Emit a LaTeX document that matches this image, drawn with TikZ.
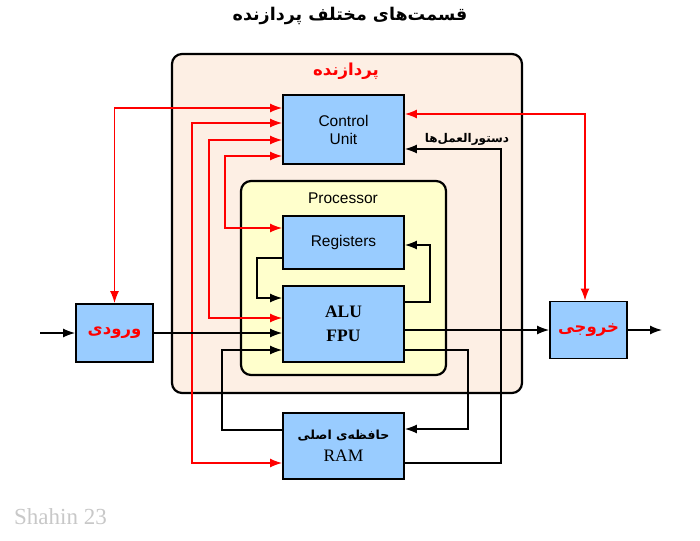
\documentclass[tikz,border=0pt]{standalone}
\usepackage{fontspec}
\setmainfont{Liberation Sans}
\newfontfamily\fa[Script=Arabic]{DejaVu Sans}
\newfontfamily\tms{Liberation Serif}
\TeXXeTstate=1
\usetikzlibrary{arrows.meta}
\definecolor{boxblue}{HTML}{99CCFF}
\definecolor{outerfill}{HTML}{FDEFE4}
\definecolor{procfill}{HTML}{FFFFCC}
\definecolor{wmgray}{HTML}{C8C8C8}
\tikzset{
  blk/.style={draw=black, line width=1.8pt, fill=boxblue, inner sep=0pt, align=center},
  frame/.style={draw=black, line width=2.2pt, rounded corners=10pt},
  rline/.style={draw=red, line width=1.5pt, {Latex[length=12pt,width=9pt]}-{Latex[length=12pt,width=9pt]}},
  bline/.style={draw=black, line width=1.4pt, -{Latex[length=12pt,width=9pt]}},
  faB/.style={font=\fa\bfseries}
}
\begin{document}
\begin{tikzpicture}[x=1pt,y=-1pt]
\useasboundingbox (0,0) rectangle (700,540);
% title
\node[font=\fa\bfseries\fontsize{17.5}{20}\selectfont] (title) at (350,16) {\beginR قسمت‌های مختلف پردازنده\endR};
% frames
\draw[frame, fill=outerfill] (172,54) rectangle (522,393);
\node[text=red, font=\fa\bfseries\fontsize{16.5}{19}\selectfont] (cpu) at (346,71) {\beginR پردازنده\endR};
\draw[frame, fill=procfill] (241,181) rectangle (446,375);
\node[font=\fontsize{15.5}{18}\selectfont] (proc) at (343,198) {Processor};
% coordinates for free ends
\coordinate (inS) at (40,333);
\coordinate (outE) at (662,330);
% blocks
\node[blk, minimum width=121pt, minimum height=69pt, font=\fontsize{15.5}{18}\selectfont] (CU) at (343.5,129.5) {Control\\Unit};
\node[blk, minimum width=121pt, minimum height=53pt, font=\fontsize{15.5}{18}\selectfont] (Reg) at (343.5,242.5) {Registers};
\node[blk, minimum width=121pt, minimum height=76pt, font=\tms\bfseries\fontsize{17.5}{24}\selectfont] (ALU) at (343.5,324) {ALU\\FPU};
\node[blk, minimum width=121pt, minimum height=66pt, font=\tms\fontsize{17.5}{22}\selectfont] (RAM) at (343.5,446) {{\fa\bfseries\fontsize{12.5}{15}\selectfont\beginR حافظه‌ی اصلی\endR}\\RAM};
\node[blk, minimum width=77pt, minimum height=58pt, text=red, font=\fa\bfseries\fontsize{16.5}{19}\selectfont] (In) at (114.5,333) {\beginR ورودی\endR};
\node[blk, minimum width=77pt, minimum height=57pt, text=red, font=\fa\bfseries\fontsize{16.5}{19}\selectfont] (Out) at (588.5,330) {\beginR خروجی\endR};
% red connectors
\draw[rline] (In.north) |- ([yshift=21.5pt]CU.west);
\draw[rline] ([yshift=6.5pt]CU.west) -- ++(-90,0) |- ([yshift=-17pt]RAM.west);
\draw[rline] ([yshift=-10.5pt]CU.west) -- ++(-73,0) |- ([yshift=6pt]ALU.west);
\draw[rline] ([yshift=-26.5pt]CU.west) -- ++(-57,0) |- ([yshift=14.5pt]Reg.west);
\draw[rline] ([yshift=15.5pt]CU.east) -| ([xshift=-3.5pt]Out.north);
% black connectors
\draw[bline] (inS) -- (In.west);
\draw[bline] (In.east) -- ([yshift=-9pt]ALU.west);
\draw[bline] (ALU.east |- Out.west) -- (Out.west);
\draw[bline] (Out.east) -- (outE);
\draw[bline] ([yshift=-15.5pt]Reg.west) -- ++(-25,0) |- ([yshift=26pt]ALU.west);
\draw[bline] ([yshift=22pt]ALU.east) -- ++(25,0) |- ([yshift=-2.5pt]Reg.east);
\draw[bline] ([yshift=-26pt]ALU.east) -- ++(63,0) |- ([yshift=17pt]RAM.east);
\draw[bline] ([yshift=16pt]RAM.west) -- ++(-60,0) |- ([yshift=-26pt]ALU.west);
\draw[bline] ([yshift=-17pt]RAM.east) -- ++(96,0) |- ([yshift=-19.5pt]CU.east);
\node[font=\fa\bfseries\fontsize{12}{14}\selectfont] (instr) at (467,139) {\beginR دستورالعمل‌ها\endR};
% watermark
\node[text=wmgray, font=\tms\fontsize{23}{26}\selectfont, anchor=west, inner sep=0pt] (wm) at (14,517) {Shahin 23};
\end{tikzpicture}
\end{document}
